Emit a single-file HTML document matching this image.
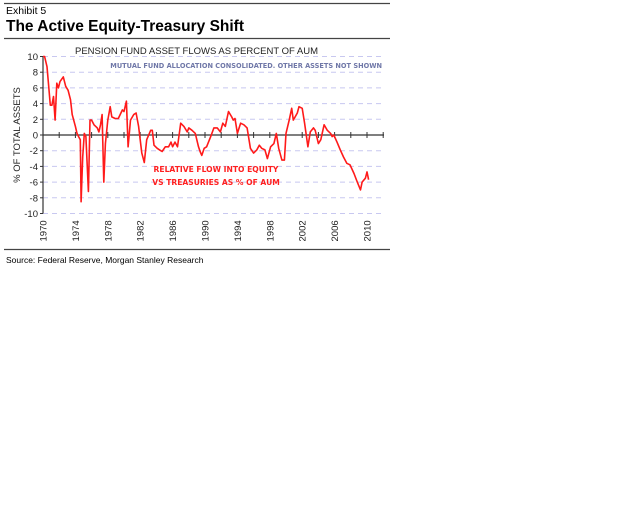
<!DOCTYPE html>
<html><head><meta charset="utf-8"><style>
body{margin:0;background:#fff;width:640px;height:511px;overflow:hidden;font-family:"Liberation Sans",sans-serif}
</style></head><body>
<svg width="640" height="511">
<line x1="4" y1="3.5" x2="390" y2="3.5" stroke="#444" stroke-width="1.2"/>
<text x="6" y="14" font-size="10.5" fill="#000">Exhibit 5</text>
<text x="6" y="31" font-size="15.5" font-weight="bold" fill="#000">The Active Equity-Treasury Shift</text>
<line x1="4" y1="38.5" x2="390" y2="38.5" stroke="#444" stroke-width="1.2"/>
<text x="75" y="54" font-size="9.5" fill="#222">PENSION FUND ASSET FLOWS AS PERCENT OF AUM</text>
<text x="382" y="68" font-size="6.6" font-weight="bold" fill="#7078a8" text-anchor="end" font-family="DejaVu Sans, sans-serif">MUTUAL FUND ALLOCATION CONSOLIDATED. OTHER ASSETS NOT SHOWN</text>
<text transform="translate(20,135) rotate(-90)" font-size="9.5" fill="#222" text-anchor="middle">% OF TOTAL ASSETS</text>
<g id="grid"></g><g id="axes"></g>
<polyline id="series" fill="none" stroke="#ff1a1a" stroke-width="1.6" stroke-linejoin="round"/>
<text x="216" y="172" font-size="7.6" font-weight="bold" fill="#ff2020" text-anchor="middle" font-family="DejaVu Sans, sans-serif">RELATIVE FLOW INTO EQUITY</text>
<text x="216" y="185" font-size="7.6" font-weight="bold" fill="#ff2020" text-anchor="middle" font-family="DejaVu Sans, sans-serif">VS TREASURIES AS % OF AUM</text>
<line x1="4" y1="249.5" x2="390" y2="249.5" stroke="#444" stroke-width="1.2"/>
<text x="6" y="263" font-size="8.5" fill="#000">Source: Federal Reserve, Morgan Stanley Research</text>
</svg>
<script>
const years=[1970.0,1970.2,1970.5,1970.7,1970.9,1971.1,1971.3,1971.5,1971.7,1971.9,1972.1,1972.5,1972.8,1973.1,1973.4,1973.6,1974.0,1974.2,1974.4,1974.6,1974.7,1974.9,1975.1,1975.3,1975.6,1975.8,1976.0,1976.3,1976.7,1976.9,1977.1,1977.3,1977.5,1977.7,1978.0,1978.3,1978.5,1978.9,1979.3,1979.8,1980.0,1980.3,1980.5,1980.8,1981.2,1981.5,1981.8,1982.2,1982.5,1982.8,1983.3,1983.5,1983.7,1984.1,1984.4,1984.7,1985.1,1985.5,1985.8,1986.0,1986.3,1986.6,1987.0,1987.4,1987.8,1988.0,1988.4,1988.8,1989.2,1989.4,1989.6,1989.9,1990.2,1990.7,1991.1,1991.5,1991.9,1992.2,1992.5,1992.9,1993.3,1993.5,1993.7,1994.0,1994.4,1994.8,1995.2,1995.6,1996.0,1996.4,1996.7,1997.0,1997.4,1997.7,1998.1,1998.5,1998.8,1999.1,1999.5,1999.8,2000.0,2000.4,2000.7,2000.9,2001.4,2001.6,2002.0,2002.3,2002.7,2003.0,2003.4,2003.6,2004.0,2004.3,2004.7,2005.1,2005.5,2005.7,2005.9,2006.3,2006.7,2007.1,2007.5,2007.9,2008.4,2008.8,2009.2,2009.4,2009.8,2010.0,2010.2];
const values=[10,10,8.7,6.2,3.8,3.8,4.9,1.9,6.6,6.0,6.8,7.4,6.2,5.7,4.5,2.6,1.1,0.2,-0.2,-0.6,-8.5,-2.8,0.2,-0.2,-7.2,1.9,1.9,1.3,0.9,0.4,1.3,2.6,-6.0,-1.1,1.9,3.6,2.3,2.1,2.1,3.2,3.0,4.3,-1.5,1.9,2.6,2.8,1.1,-2.3,-3.5,-0.6,0.6,0.6,-1.3,-1.7,-1.9,-2.1,-1.5,-1.5,-0.9,-1.5,-0.9,-1.5,1.5,1.1,0.4,0.9,0.6,0.2,-1.5,-2.1,-2.6,-1.7,-1.5,-0.2,0.9,0.9,0.4,1.5,1.1,3.0,2.3,1.9,2.1,0.2,1.5,1.3,0.9,-1.7,-2.3,-1.9,-1.3,-1.7,-1.9,-3.0,-1.5,-1.1,0.2,-1.7,-3.2,-3.2,0.2,1.9,3.4,1.9,2.8,3.6,3.4,1.5,-1.5,0.4,0.9,0.6,-1.1,-0.6,1.3,0.6,0.2,-0.2,0,-0.9,-1.9,-2.8,-3.6,-3.8,-4.9,-6.0,-7.0,-6.0,-5.5,-4.7,-5.7];
const yTicks=[10,8,6,4,2,0,-2,-4,-6,-8,-10];
const xLabels=[1970,1974,1978,1982,1986,1990,1994,1998,2002,2006,2010];
const NS='http://www.w3.org/2000/svg';
const X0=43,Y0=56.5,PW=8.1,Y1=213.5;
const xs=y=>X0+(y-1970)*PW;
const ys=v=>Y0+(10-v)*(Y1-Y0)/20;
function mk(t,a,p){const e=document.createElementNS(NS,t);for(const k in a)e.setAttribute(k,a[k]);p.appendChild(e);return e;}
const grid=document.getElementById('grid'),axes=document.getElementById('axes');
yTicks.forEach(v=>{
  if(v!==0){const g=mk('line',{x1:X0,x2:383,y1:ys(v),y2:ys(v),stroke:'#c8c8f0','stroke-dasharray':'5,4','stroke-width':1},grid);
  
  }
  const t=mk('text',{x:X0-5,y:ys(v)+3.5,'font-size':9.5,'text-anchor':'end',fill:'#222'},axes);t.textContent=v;
  
  
  mk('line',{x1:X0-3,x2:X0,y1:ys(v),y2:ys(v),stroke:'#333'},axes);
});
const ya=mk('line',{x1:X0,x2:X0,y1:Y0,y2:Y1,stroke:'#333','stroke-width':1.2},axes);


const xa=mk('line',{x1:X0,x2:384,y1:ys(0),y2:ys(0),stroke:'#333','stroke-width':1.2},axes);


for(let y=1972;y<=2012;y+=2){mk('line',{x1:xs(y),x2:xs(y),y1:ys(0)-3,y2:ys(0)+3,stroke:'#333'},axes);}
xLabels.forEach(y=>{const t=mk('text',{transform:`translate(${xs(y)+3.5},${Y1+28}) rotate(-90)`,'font-size':9.5,fill:'#222'},axes);t.textContent=y;
  
  });
document.getElementById('series').setAttribute('points',years.map((y,i)=>xs(y).toFixed(1)+','+ys(values[i]).toFixed(1)).join(' '));
</script>
</body></html>
